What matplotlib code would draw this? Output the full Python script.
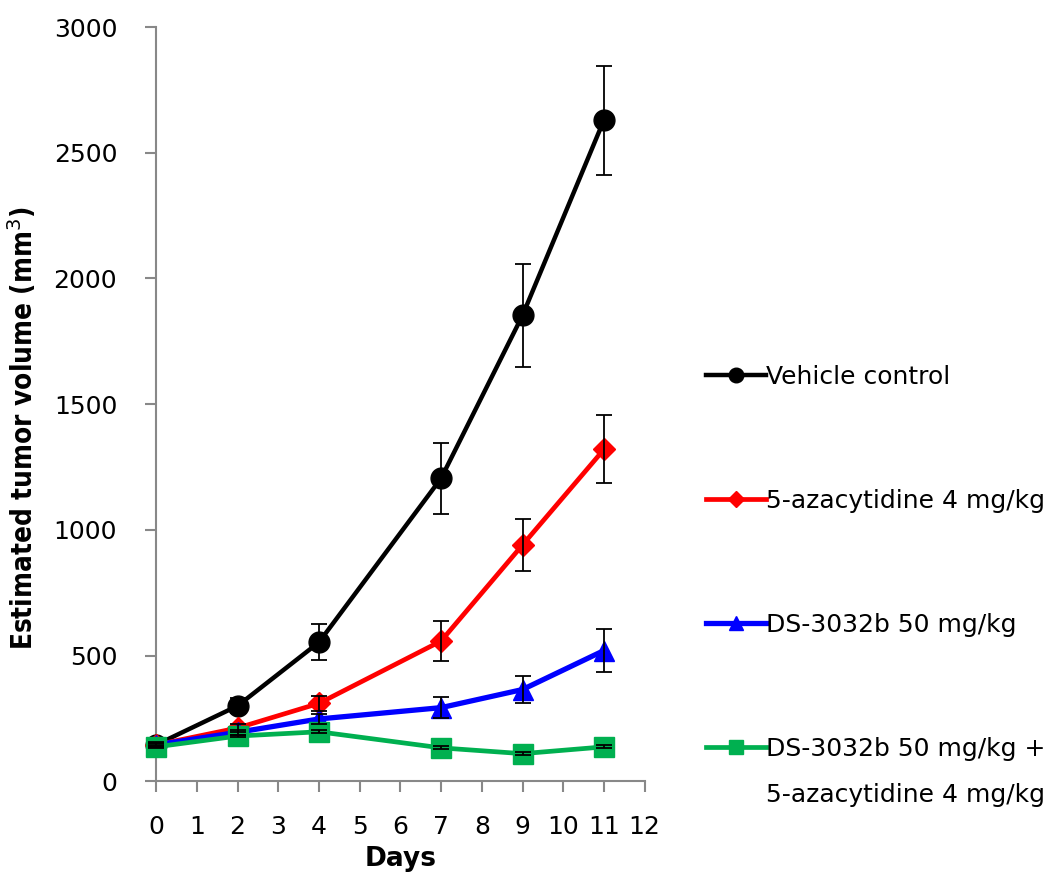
import matplotlib
matplotlib.use('Agg')
import matplotlib.pyplot as plt

# ---------------------------------------------------------------
# Dados

dias = [0, 2, 4, 7, 9, 11]

veiculo = [145, 300, 553, 1205, 1853, 2630]
veiculo_err = [10, 30, 72, 140, 205, 217]

aza = [145, 212, 310, 558, 940, 1320]
aza_err = [8, 15, 30, 78, 105, 135]

ds = [145, 195, 248, 293, 365, 520]
ds_err = [5, 10, 20, 42, 55, 85]

combo = [137, 180, 197, 133, 110, 137]
combo_err = [4, 5, 6, 6, 5, 6]

nomes = ['Vehicle control', '5-azacytidine 4 mg/kg', 'DS-3032b 50 mg/kg',
         'DS-3032b 50 mg/kg +']
nome_extra = '5-azacytidine 4 mg/kg'

# ---------------------------------------------------------------
# Grafico

fig = plt.figure(figsize=(10.62, 8.72), dpi=100)
ax = fig.add_axes([0.147, 0.104, 0.46, 0.865])

series = [
    (veiculo, veiculo_err, 'black', 'o', 15, 3.2),
    (aza, aza_err, '#ff0000', 'D', 11, 3.4),
    (ds, ds_err, '#0000ff', '^', 15, 3.8),
    (combo, combo_err, '#00b050', 's', 14, 3.4),
]

handles = []
for (y, e, cor, mk, ms, lw), nome in zip(series, nomes):
    h, = ax.plot(dias, y, color=cor, lw=lw, marker=mk, ms=ms, label=nome,
                 zorder=3, clip_on=False)
    ax.errorbar(dias, y, yerr=e, fmt='none', ecolor='black', elinewidth=1.3,
                capsize=6, capthick=1.3, zorder=4, clip_on=False)
    handles.append(h)

ax.set_xlim(0, 12)
ax.set_ylim(0, 3000)
ax.set_xticks(range(0, 13))
ax.set_yticks(range(0, 3001, 500))
ax.tick_params(labelsize=18, labelcolor='black', color='#888888',
               length=8, width=1.5)
ax.tick_params(axis='x', pad=16)
ax.tick_params(axis='y', pad=20)
ax.spines['right'].set_visible(False)
ax.spines['top'].set_visible(False)
for s in ['left', 'bottom']:
    ax.spines[s].set_color('#888888')
    ax.spines[s].set_linewidth(1.5)

ax.set_xlabel('Days', fontsize=19, fontweight='bold', labelpad=5)
ax.set_ylabel('Estimated tumor volume (mm$^3$)', fontsize=20,
              fontweight='bold', stretch='condensed')
ax.yaxis.set_label_coords(-0.24, 0.468)

leg = fig.legend(handles=handles, labels=nomes, loc='upper left',
                 bbox_to_anchor=(0.644, 0.607), frameon=False, fontsize=18,
                 labelspacing=4.0, handlelength=2.4, handletextpad=0.0,
                 markerscale=0.7)

# segunda linha do ultimo item da legenda
fig.canvas.draw()
ultimo = leg.get_texts()[-1]
bb = ultimo.get_window_extent().transformed(fig.transFigure.inverted())
fig.text(bb.x0, bb.y0 - 0.025, nome_extra, fontsize=18, va='top', ha='left')

fig.savefig('out.png', dpi=100)
